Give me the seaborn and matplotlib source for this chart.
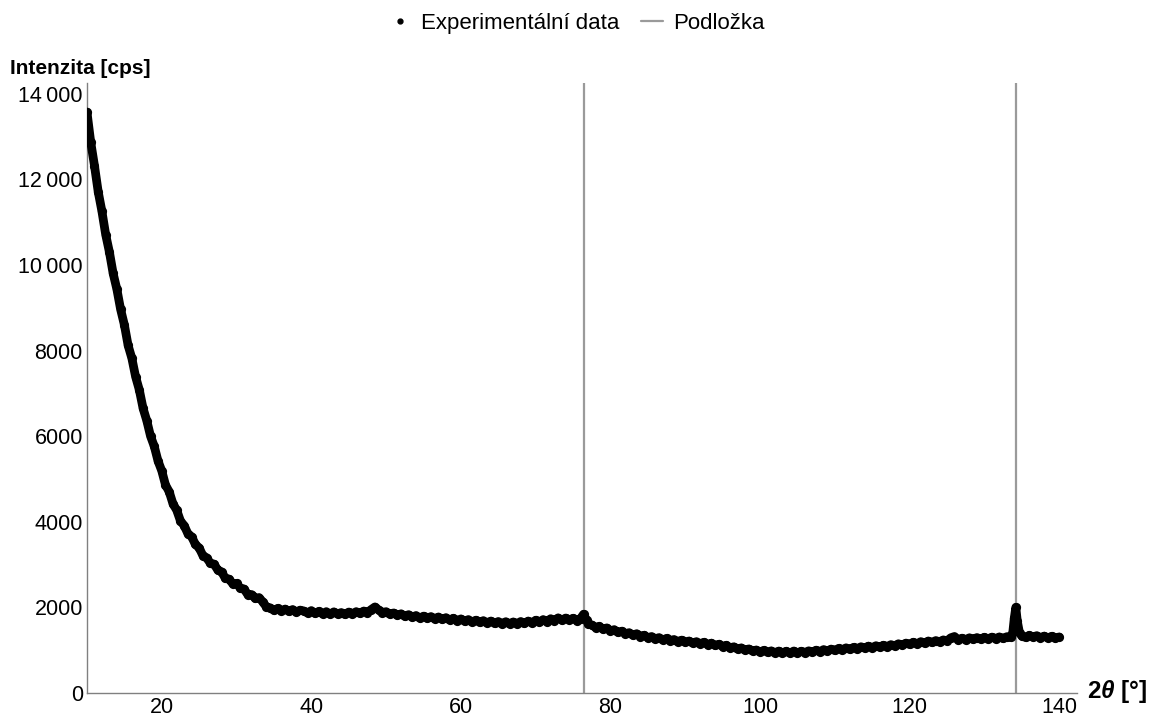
import numpy as np
import pandas as pd
import matplotlib
matplotlib.use("Agg")
import matplotlib.pyplot as plt
from matplotlib.lines import Line2D
from matplotlib.ticker import MultipleLocator, FuncFormatter
import seaborn as sns

# ---- data ----
two_theta_steep = [10.0, 10.5, 11.0, 11.5, 12.0, 12.5, 13.0, 13.5, 14.0, 14.5,
                   15.0, 15.5, 16.0, 16.5, 17.0, 17.5, 18.0, 18.5, 19.0, 19.5,
                   20.0, 20.5, 21.0, 21.5, 22.0, 22.5, 23.0, 23.5, 24.0, 24.5,
                   25.0, 25.5, 26.0, 26.5, 27.0, 27.5, 28.0, 28.5, 29.0, 29.5,
                   30.0, 30.5, 31.0, 31.5, 32.0, 32.5, 33.0, 33.5, 34.0]
intensity_steep = [13570, 12870, 12320, 11710, 11250, 10710, 10300, 9800, 9430, 8960,
                   8600, 8120, 7820, 7390, 7080, 6650, 6360, 6000, 5760, 5420,
                   5190, 4860, 4700, 4420, 4270, 4020, 3910, 3720, 3650, 3470,
                   3390, 3210, 3160, 3030, 3010, 2870, 2830, 2680, 2660, 2550,
                   2560, 2450, 2430, 2300, 2300, 2210, 2230, 2130, 2010]

two_theta_tail = [34.5, 35.0, 35.5, 36.0, 36.5, 37.0, 37.5, 38.0, 38.5, 39.0, 39.5,
                  40.0, 40.5, 41.0, 41.5, 42.0, 42.5, 43.0, 43.5, 44.0, 44.5,
                  45.0, 45.5, 46.0, 46.5, 47.0, 47.5, 48.0, 48.5, 49.0, 49.5,
                  50.0, 50.5, 51.0, 51.5, 52.0, 52.5, 53.0, 53.5, 54.0, 54.5,
                  55.0, 55.5, 56.0, 56.5, 57.0, 57.5, 58.0, 58.5, 59.0, 59.5,
                  60.0, 60.5, 61.0, 61.5, 62.0, 62.5, 63.0, 63.5, 64.0, 64.5,
                  65.0, 65.5, 66.0, 66.5, 67.0, 67.5, 68.0, 68.5, 69.0, 69.5,
                  70.0, 70.5, 71.0, 71.5, 72.0, 72.5, 73.0, 73.5, 74.0, 74.5,
                  75.0, 75.5, 76.0, 76.4, 76.8, 77.0, 77.5, 78.0, 78.5, 79.0, 79.5,
                  80.0, 80.5, 81.0, 81.5, 82.0, 82.5, 83.0, 83.5, 84.0, 84.5,
                  85.0, 85.5, 86.0, 86.5, 87.0, 87.5, 88.0, 88.5, 89.0, 89.5,
                  90.0, 90.5, 91.0, 91.5, 92.0, 92.5, 93.0, 93.5, 94.0, 94.5,
                  95.0, 95.5, 96.0, 96.5, 97.0, 97.5, 98.0, 98.5, 99.0, 99.5,
                  100.0, 100.5, 101.0, 101.5, 102.0, 102.5, 103.0, 103.5, 104.0, 104.5,
                  105.0, 105.5, 106.0, 106.5, 107.0, 107.5, 108.0, 108.5, 109.0, 109.5,
                  110.0, 110.5, 111.0, 111.5, 112.0, 112.5, 113.0, 113.5, 114.0, 114.5,
                  115.0, 115.5, 116.0, 116.5, 117.0, 117.5, 118.0, 118.5, 119.0, 119.5,
                  120.0, 120.5, 121.0, 121.5, 122.0, 122.5, 123.0, 123.5, 124.0, 124.5,
                  125.0, 125.5, 126.0, 126.5, 127.0, 127.5, 128.0, 128.5, 129.0, 129.5,
                  130.0, 130.5, 131.0, 131.5, 132.0, 132.5, 133.0, 133.5, 133.8, 134.0,
                  134.2, 134.4, 134.7, 135.0, 135.5, 136.0, 136.5, 137.0, 137.5, 138.0,
                  138.5, 139.0, 139.5, 140.0]
intensity_tail = [1990, 1930, 1975, 1920, 1960, 1905, 1950, 1890, 1935, 1915, 1870,
                  1925, 1860, 1905, 1850, 1900, 1840, 1895, 1845, 1880, 1835,
                  1890, 1850, 1900, 1860, 1915, 1880, 1950, 2010, 1940, 1880,
                  1900, 1840, 1870, 1815, 1850, 1790, 1830, 1770, 1810, 1750,
                  1795, 1745, 1785, 1735, 1775, 1720, 1760, 1705, 1745, 1690,
                  1730, 1675, 1715, 1660, 1700, 1650, 1690, 1640, 1680, 1625,
                  1670, 1620, 1665, 1615, 1660, 1620, 1670, 1625, 1680, 1640,
                  1700, 1655, 1715, 1670, 1735, 1690, 1755, 1700, 1750, 1705,
                  1745, 1690, 1740, 1840, 1700, 1620, 1590, 1530, 1555, 1490, 1520,
                  1450, 1480, 1415, 1445, 1385, 1410, 1350, 1385, 1320, 1350,
                  1290, 1320, 1265, 1295, 1240, 1275, 1225, 1250, 1200, 1235,
                  1185, 1215, 1165, 1200, 1150, 1185, 1130, 1165, 1110, 1140,
                  1085, 1115, 1055, 1080, 1025, 1055, 1000, 1030, 980, 1005,
                  960, 995, 950, 985, 940, 980, 935, 975, 930, 980,
                  935, 975, 945, 985, 955, 1000, 965, 1015, 980, 1025,
                  995, 1040, 1010, 1055, 1020, 1065, 1035, 1080, 1050, 1095,
                  1060, 1105, 1070, 1115, 1085, 1130, 1100, 1150, 1120, 1165,
                  1135, 1185, 1150, 1200, 1165, 1215, 1180, 1225, 1195, 1240,
                  1215, 1290, 1320, 1240, 1280, 1245, 1290, 1255, 1295, 1260,
                  1300, 1265, 1305, 1270, 1310, 1275, 1315, 1300, 1420, 1750,
                  2000, 1680, 1400, 1330, 1300, 1345, 1305, 1340, 1290, 1330,
                  1285, 1325, 1280, 1310]

substrate_positions = [76.4, 134.2]

y_ticks = [0, 2000, 4000, 6000, 8000, 10000, 12000, 14000]
x_ticks = [20, 40, 60, 80, 100, 120, 140]

legend_labels = ["Experimentální data", "Podložka"]
y_axis_label = "Intenzita [cps]"

df = pd.DataFrame({
    "two_theta": two_theta_steep + two_theta_tail,
    "intensity": intensity_steep + intensity_tail,
})

# ---- style ----
sns.set_style("white")
plt.rcParams["font.family"] = ["Liberation Sans", "DejaVu Sans"]
plt.rcParams["text.color"] = "black"
plt.rcParams["xtick.labelcolor"] = "black"
plt.rcParams["ytick.labelcolor"] = "black"
plt.rcParams["mathtext.fontset"] = "custom"
plt.rcParams["mathtext.rm"] = "Liberation Sans:bold"
plt.rcParams["mathtext.bf"] = "Liberation Sans:bold"
plt.rcParams["mathtext.it"] = "Liberation Sans:italic:bold"

axis_gray = "#808080"
line_gray = "#9a9a9a"

fig = plt.figure(figsize=(11.52, 7.24), dpi=100)
ax = fig.add_axes([0.0755, 0.0428, 0.8595, 0.8426])

for xv in substrate_positions:
    ax.axvline(xv, color=line_gray, lw=1.6, zorder=1)

sns.lineplot(data=df, x="two_theta", y="intensity", ax=ax, color="black",
             lw=6.3, sort=False, estimator=None, zorder=3)
sns.scatterplot(data=df, x="two_theta", y="intensity", ax=ax, color="black",
                s=44, linewidth=0, zorder=4)

ax.set_xlim(10, 142.4)
ax.set_ylim(0, 14250)
ax.set_xlabel("")
ax.set_ylabel("")

ax.set_xticks(x_ticks)
ax.set_yticks(y_ticks)
ax.xaxis.set_minor_locator(MultipleLocator(5))
ax.yaxis.set_minor_locator(MultipleLocator(500))


def fmt(v, pos):
    v = int(round(v))
    if v >= 10000:
        return f"{v // 1000}\u2009{v % 1000:03d}"
    return str(v)


ax.yaxis.set_major_formatter(FuncFormatter(fmt))

for s in ["top", "right"]:
    ax.spines[s].set_visible(False)
for s in ["left", "bottom"]:
    ax.spines[s].set_color(axis_gray)
    ax.spines[s].set_linewidth(1.0)

ax.tick_params(which="major", direction="in", length=4, width=0.9, color=axis_gray,
               labelsize=15.5, labelcolor="black", pad=4)
ax.tick_params(which="minor", direction="in", length=2.3, width=0.8, color=axis_gray)
ax.tick_params(axis="y", which="major", pad=3)
ax.tick_params(axis="x", which="major", pad=3)

# axis labels, Mathematica style
fig.text(0.0085, 0.906, y_axis_label, fontsize=15, fontweight="bold",
         color="black", ha="left", va="center")
fig.text(0.944, 0.0455, r"$\mathbf{2}\mathit{\theta}$ [°]", fontsize=17.5,
         fontweight="bold", color="black", ha="left", va="center")

handles = [
    Line2D([], [], marker="o", color="black", linestyle="none", markersize=3.5),
    Line2D([], [], color=line_gray, lw=1.6),
]
fig.legend(handles, legend_labels, loc="upper center", bbox_to_anchor=(0.5005, 1.01),
           ncol=2, frameon=False, fontsize=16, handlelength=1.0,
           columnspacing=0.95, handletextpad=0.45, labelcolor="black")

fig.savefig("out.png", dpi=100)
